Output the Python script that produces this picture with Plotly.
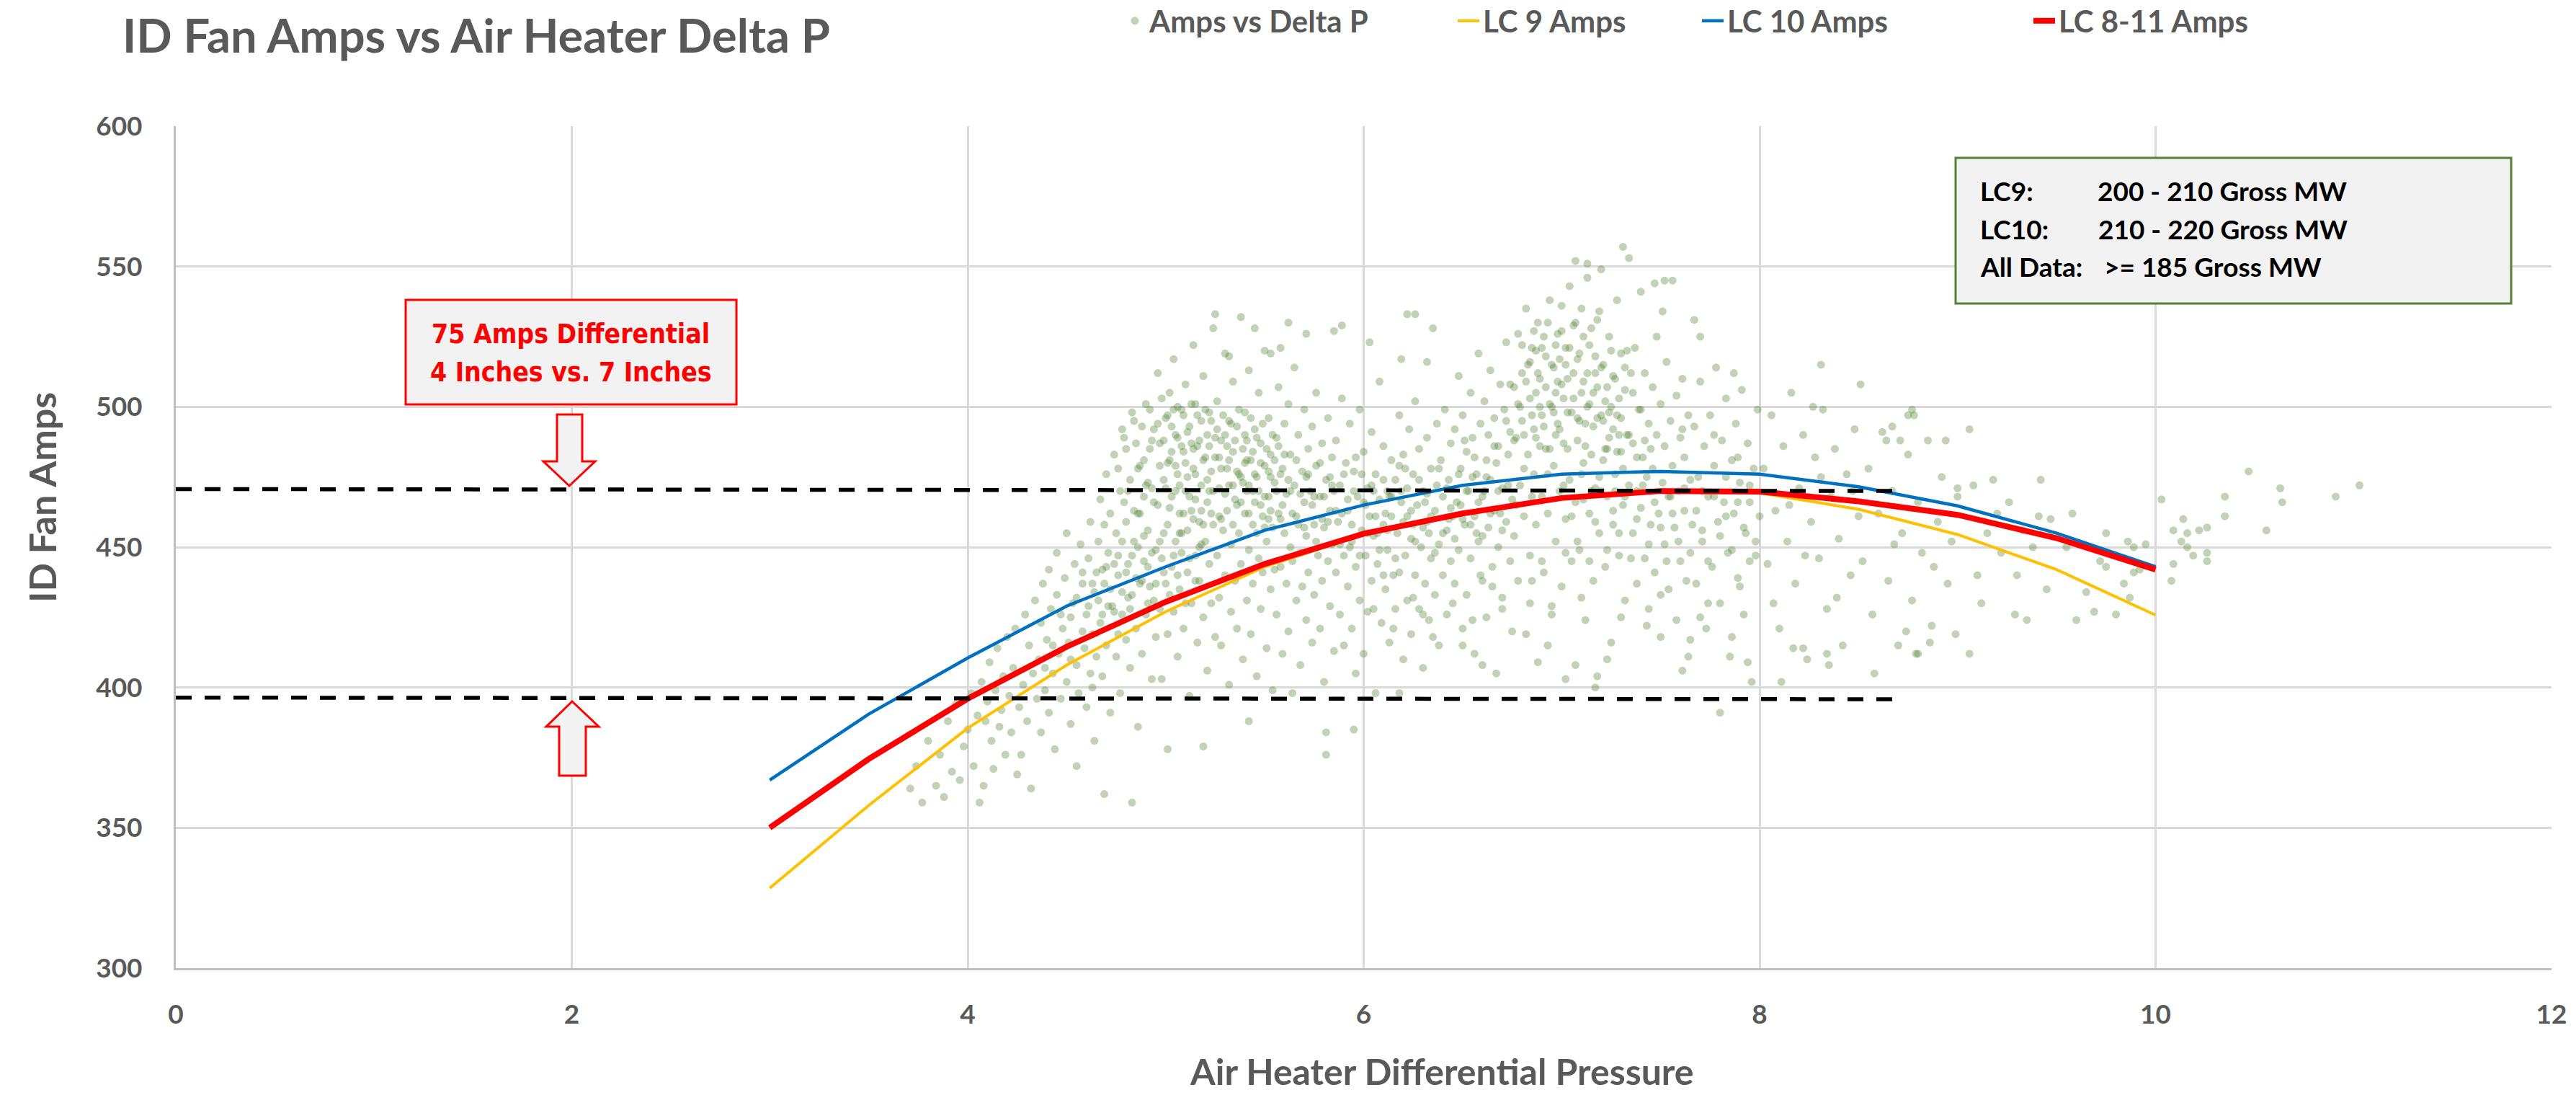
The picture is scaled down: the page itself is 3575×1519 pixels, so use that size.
import plotly.graph_objects as go

# ---------------- chart values ----------------
TITLE = "ID Fan Amps vs Air Heater Delta P"
X_TITLE = "Air Heater Differential Pressure"
Y_TITLE = "ID Fan Amps"

X_TICKS = [0, 2, 4, 6, 8, 10, 12]
Y_TICKS = [300, 350, 400, 450, 500, 550, 600]

LC_DP = [3, 3.5, 4, 4.5, 5, 5.5, 6, 6.5, 7, 7.5, 8, 8.5, 9, 9.5, 10]
LC9_AMPS = [328.5, 358, 385.5, 408, 427, 443, 454.5, 462.5, 467.5, 470.5, 469.3, 463.5, 454.5, 442, 425.8]
LC10_AMPS = [367, 390.5, 410.5, 429, 443, 456, 465, 472, 476, 477, 476, 471.5, 464.7, 455, 443]
LC8_11_AMPS = [350, 374.5, 396, 414.5, 430.5, 444, 454.8, 462, 467.5, 470, 469.8, 466.3, 461.5, 453.2, 442]

# dashed reference levels (amps at the two ends) and their delta-P extent
REF_DP = [0, 8.73]
REF_HIGH_AMPS = [470.7, 470.0]
REF_LOW_AMPS = [396.4, 395.8]

BOX1_LINES = ["75 Amps Differential", "4 Inches vs. 7 Inches"]
BOX2_LABELS = ["LC9:", "LC10:", "All Data:"]
BOX2_VALUES = ["200 - 210 Gross MW", "210 - 220 Gross MW", ">= 185 Gross MW"]

# scatter cloud "Amps vs Delta P" (delta P, amps)
PTS_LEFT = [
    (3.71, 364), (3.74, 372), (3.77, 359), (3.80, 381), (3.84, 365), (3.86, 376), (3.88, 361), (3.90, 388),
    (3.92, 370), (3.94, 394), (3.96, 367), (3.98, 379), (4.00, 385), (4.02, 398), (4.03, 372), (4.05, 390),
    (4.06, 359), (4.07, 402), (4.08, 365), (4.09, 388), (4.10, 395), (4.11, 409), (4.12, 381), (4.13, 371),
    (4.14, 399), (4.15, 414), (4.16, 386), (4.17, 392), (4.18, 404), (4.19, 376), (4.20, 418), (4.21, 397),
    (4.22, 384), (4.23, 407), (4.24, 421), (4.25, 369), (4.26, 393), (4.27, 376), (4.28, 401), (4.29, 426),
    (4.30, 388), (4.31, 415), (4.32, 364), (4.33, 405), (4.34, 431), (4.35, 396),
    (4.36, 410), (4.37, 423), (4.37, 384), (4.38, 437), (4.39, 399), (4.40, 417), (4.41, 442), (4.41, 391),
    (4.42, 428), (4.43, 405), (4.44, 378), (4.45, 433), (4.45, 448), (4.46, 412), (4.47, 396), (4.48, 421),
    (4.49, 439), (4.50, 402), (4.50, 455), (4.51, 416), (4.52, 387), (4.53, 430), (4.54, 444), (4.55, 408),
    (4.55, 372), (4.56, 398), (4.57, 451), (4.58, 437), (4.59, 414), (4.60, 426), (4.60, 393), (4.61, 446),
    (4.62, 405), (4.62, 459), (4.63, 419), (4.64, 434), (4.64, 381), (4.65, 411), (4.65, 441), (4.63, 400),
    (4.58, 420), (4.52, 410), (4.47, 426), (4.43, 415), (4.39, 407),
]
PTS_47_50 = [
    (4.66, 452), (4.67, 423), (4.67, 467), (4.68, 404), (4.69, 437), (4.70, 476), (4.70, 415), (4.71, 448),
    (4.72, 391), (4.72, 462), (4.73, 429), (4.74, 483), (4.75, 411), (4.75, 455), (4.76, 440), (4.77, 470),
    (4.77, 398), (4.78, 426), (4.79, 489), (4.80, 417), (4.80, 459), (4.81, 444), (4.82, 474), (4.82, 407),
    (4.83, 433), (4.84, 495), (4.84, 463), (4.85, 421), (4.86, 450), (4.86, 386), (4.87, 479), (4.88, 438),
    (4.88, 412), (4.89, 468), (4.90, 501), (4.90, 426), (4.91, 456), (4.91, 443), (4.92, 485), (4.93, 403),
    (4.93, 471), (4.94, 431), (4.94, 492), (4.95, 449), (4.95, 418), (4.69, 458), (4.74, 444), (4.78, 452),
    (4.83, 447), (4.87, 462), (4.91, 473), (4.71, 429), (4.76, 419), (4.81, 432), (4.85, 439), (4.89, 454),
    (4.92, 436), (4.68, 442), (4.79, 466), (4.86, 478), (4.69, 362), (4.83, 359),
]
PTS_50_53 = [
    (4.96, 465), (4.96, 512), (4.97, 428), (4.97, 487), (4.98, 446), (4.98, 403), (4.99, 474), (5.00, 496),
    (5.00, 437), (5.01, 458), (5.01, 419), (5.02, 505), (5.02, 481), (5.03, 443), (5.03, 468), (5.04, 427),
    (5.04, 517), (5.05, 452), (5.05, 490), (5.06, 411), (5.06, 476), (5.07, 462), (5.07, 435), (5.08, 499),
    (5.08, 448), (5.09, 421), (5.09, 484), (5.10, 470), (5.10, 508), (5.11, 441), (5.11, 456), (5.12, 397),
    (5.12, 493), (5.13, 463), (5.13, 430), (5.14, 478), (5.14, 522), (5.15, 447), (5.15, 501), (5.16, 416),
    (5.16, 486), (5.17, 459), (5.17, 438), (5.18, 472), (5.18, 495), (5.19, 425), (5.19, 511), (5.20, 452),
    (5.20, 482), (5.21, 406), (5.21, 466), (5.22, 444), (5.22, 498), (5.23, 430), (5.23, 477), (5.24, 458),
    (5.24, 528), (5.25, 489), (5.25, 418), (5.01, 480), (5.05, 470), (5.09, 462), (5.13, 487), (5.17, 450),
    (5.21, 490), (5.03, 493), (5.07, 455), (5.11, 475), (5.15, 467), (5.19, 458), (5.23, 462), (4.99, 455),
    (5.06, 500), (5.14, 460), (5.22, 470), (5.01, 378), (5.19, 379), (5.25, 533),
]
PTS_53_56 = [
    (5.26, 447), (5.26, 502), (5.27, 432), (5.27, 471), (5.28, 415), (5.28, 488), (5.29, 456), (5.30, 519),
    (5.30, 440), (5.31, 478), (5.31, 463), (5.32, 401), (5.32, 495), (5.33, 427), (5.33, 451), (5.34, 484),
    (5.34, 509), (5.35, 438), (5.35, 467), (5.36, 421), (5.36, 493), (5.37, 455), (5.37, 476), (5.38, 444),
    (5.38, 532), (5.39, 410), (5.39, 485), (5.40, 462), (5.40, 498), (5.41, 431), (5.41, 470), (5.42, 449),
    (5.42, 513), (5.43, 419), (5.43, 481), (5.44, 458), (5.44, 437), (5.45, 492), (5.45, 466), (5.46, 404),
    (5.46, 475), (5.47, 446), (5.47, 505), (5.48, 428), (5.48, 487), (5.49, 461), (5.49, 441), (5.50, 479),
    (5.50, 520), (5.51, 452), (5.51, 414), (5.52, 496), (5.52, 468), (5.53, 435), (5.53, 483), (5.54, 457),
    (5.54, 399), (5.55, 473), (5.55, 442), (5.28, 460), (5.32, 472), (5.36, 465), (5.40, 480), (5.44, 470),
    (5.48, 465), (5.52, 460), (5.30, 490), (5.34, 458), (5.38, 475), (5.42, 462), (5.46, 455), (5.50, 468),
    (5.27, 482), (5.41, 488), (5.53, 475), (5.42, 388), (5.32, 518), (5.45, 528), (5.53, 519),
]
PTS_56_59 = [
    (5.56, 489), (5.56, 426), (5.57, 462), (5.57, 507), (5.58, 443), (5.58, 476), (5.59, 412), (5.60, 455),
    (5.60, 494), (5.61, 437), (5.61, 469), (5.62, 501), (5.62, 420), (5.63, 450), (5.63, 483), (5.64, 445),
    (5.64, 398), (5.65, 472), (5.65, 514), (5.66, 431), (5.66, 461), (5.67, 490), (5.68, 448), (5.68, 408),
    (5.69, 477), (5.69, 436), (5.70, 466), (5.70, 499), (5.71, 424), (5.71, 454), (5.72, 485), (5.72, 441),
    (5.73, 470), (5.74, 416), (5.74, 493), (5.75, 458), (5.75, 433), (5.76, 479), (5.76, 505), (5.77, 447),
    (5.78, 421), (5.78, 468), (5.79, 487), (5.79, 438), (5.80, 457), (5.80, 402), (5.81, 474), (5.82, 445),
    (5.82, 496), (5.83, 429), (5.83, 463), (5.84, 482), (5.84, 451), (5.85, 413), (5.85, 470), (5.59, 465),
    (5.63, 470), (5.67, 458), (5.71, 475), (5.75, 468), (5.79, 460), (5.83, 475), (5.58, 521), (5.62, 530),
    (5.71, 526), (5.85, 527), (5.81, 376), (5.81, 384),
]
PTS_59_62 = [
    (5.86, 441), (5.86, 488), (5.87, 459), (5.88, 426), (5.88, 472), (5.89, 503), (5.90, 447), (5.90, 415),
    (5.91, 480), (5.92, 436), (5.92, 463), (5.93, 494), (5.94, 421), (5.94, 452), (5.95, 477), (5.96, 405),
    (5.96, 443), (5.97, 468), (5.98, 431), (5.98, 499), (5.99, 456), (6.00, 484), (6.00, 412), (6.01, 447),
    (6.02, 471), (6.02, 427), (6.03, 461), (6.04, 491), (6.04, 438), (6.05, 454), (6.06, 398), (6.06, 476),
    (6.07, 444), (6.08, 467), (6.08, 509), (6.09, 423), (6.10, 458), (6.10, 486), (6.11, 435), (6.12, 470),
    (6.12, 449), (6.13, 416), (6.14, 481), (6.14, 461), (6.15, 440), (5.89, 462), (5.95, 470), (6.01, 465),
    (6.07, 455), (6.13, 468), (5.93, 450), (5.99, 476), (6.05, 470), (6.11, 462), (6.03, 523), (5.89, 529),
    (5.95, 385),
]
PTS_62_65 = [
    (6.16, 474), (6.16, 428), (6.17, 455), (6.18, 497), (6.18, 441), (6.19, 466), (6.20, 410), (6.20, 483),
    (6.21, 447), (6.22, 461), (6.22, 431), (6.23, 492), (6.24, 453), (6.24, 419), (6.25, 476), (6.26, 440),
    (6.26, 502), (6.27, 465), (6.28, 428), (6.28, 485), (6.29, 450), (6.30, 470), (6.30, 407), (6.31, 437),
    (6.32, 489), (6.32, 459), (6.33, 424), (6.34, 478), (6.34, 446), (6.35, 528), (6.36, 463), (6.36, 433),
    (6.37, 494), (6.38, 451), (6.38, 415), (6.39, 481), (6.40, 440), (6.40, 468), (6.41, 499), (6.42, 456),
    (6.42, 426), (6.43, 474), (6.44, 445), (6.44, 487), (6.45, 461), (6.19, 470), (6.25, 458), (6.31, 466),
    (6.37, 472), (6.43, 460), (6.21, 478), (6.33, 455), (6.18, 398), (6.22, 533), (6.19, 517), (6.32, 516),
    (6.26, 533),
]
PTS_65_68 = [
    (6.46, 492), (6.46, 437), (6.47, 466), (6.48, 511), (6.48, 449), (6.49, 478), (6.50, 421), (6.50, 497),
    (6.51, 458), (6.52, 484), (6.52, 433), (6.53, 470), (6.54, 505), (6.54, 446), (6.55, 489), (6.56, 461),
    (6.56, 412), (6.57, 476), (6.58, 519), (6.58, 452), (6.59, 494), (6.60, 438), (6.60, 468), (6.61, 502),
    (6.62, 481), (6.62, 425), (6.63, 457), (6.64, 513), (6.64, 474), (6.65, 443), (6.66, 496), (6.66, 463),
    (6.67, 405), (6.68, 486), (6.68, 450), (6.69, 508), (6.70, 471), (6.70, 432), (6.71, 499), (6.72, 459),
    (6.72, 523), (6.73, 483), (6.74, 445), (6.74, 491), (6.75, 467), (6.49, 465), (6.55, 475), (6.61, 470),
    (6.67, 480), (6.73, 472), (6.51, 488), (6.57, 455), (6.63, 490), (6.69, 462), (6.59, 440), (6.60, 408),
]
PTS_68_71 = [
    (6.76, 507), (6.76, 454), (6.77, 489), (6.78, 526), (6.78, 438), (6.79, 472), (6.80, 512), (6.80, 495),
    (6.81, 461), (6.82, 535), (6.82, 419), (6.83, 483), (6.84, 503), (6.84, 447), (6.85, 521), (6.86, 476),
    (6.86, 492), (6.87, 458), (6.88, 530), (6.88, 409), (6.89, 510), (6.90, 468), (6.90, 497), (6.91, 441),
    (6.92, 518), (6.92, 485), (6.93, 462), (6.94, 538), (6.94, 501), (6.95, 429), (6.96, 479), (6.96, 514),
    (6.97, 452), (6.98, 494), (6.98, 526), (6.99, 470), (7.00, 508), (7.00, 436), (7.01, 487), (7.02, 521),
    (7.02, 460), (7.03, 498), (7.04, 543), (7.04, 474), (7.05, 445), (6.79, 500), (6.83, 515), (6.87, 505),
    (6.91, 525), (6.95, 500), (6.99, 517), (7.03, 510), (6.81, 478), (6.85, 468), (6.89, 486), (6.93, 476),
    (6.97, 490), (7.01, 472), (6.77, 465), (6.87, 520), (6.97, 505), (6.84, 430), (6.93, 415), (7.02, 403),
    (7.00, 536),
]
PTS_71_74 = [
    (7.06, 503), (7.06, 529), (7.07, 466), (7.08, 517), (7.08, 488), (7.09, 449), (7.10, 535), (7.10, 476),
    (7.11, 509), (7.12, 424), (7.12, 494), (7.13, 546), (7.14, 462), (7.14, 522), (7.15, 483), (7.16, 505),
    (7.16, 438), (7.17, 471), (7.18, 531), (7.18, 496), (7.19, 455), (7.20, 514), (7.20, 549), (7.21, 481),
    (7.22, 443), (7.22, 502), (7.23, 468), (7.24, 525), (7.24, 489), (7.25, 416), (7.26, 511), (7.26, 458),
    (7.27, 476), (7.28, 538), (7.28, 497), (7.29, 447), (7.30, 519), (7.30, 484), (7.31, 465), (7.32, 506),
    (7.32, 431), (7.33, 490), (7.34, 553), (7.34, 472), (7.35, 512), (7.09, 495), (7.13, 500), (7.17, 512),
    (7.21, 495), (7.25, 500), (7.29, 490), (7.33, 520), (7.11, 480), (7.15, 470), (7.19, 475), (7.23, 485),
    (7.27, 470), (7.31, 478), (7.07, 408), (7.23, 410), (7.18, 404), (7.17, 400), (7.31, 557), (7.07, 552),
    (7.13, 551),
]
PTS_74_80 = [
    (7.36, 487), (7.36, 455), (7.37, 521), (7.38, 470), (7.38, 437), (7.39, 499), (7.40, 541), (7.40, 464),
    (7.41, 482), (7.42, 512), (7.42, 446), (7.43, 475), (7.44, 428), (7.44, 494), (7.45, 458), (7.46, 507),
    (7.46, 478), (7.47, 441), (7.48, 490), (7.48, 525), (7.49, 462), (7.50, 501), (7.50, 418), (7.51, 473),
    (7.52, 486), (7.52, 451), (7.53, 516), (7.54, 468), (7.54, 435), (7.55, 495), (7.56, 479), (7.56, 545),
    (7.57, 457), (7.58, 504), (7.58, 424), (7.59, 470), (7.60, 489), (7.60, 445), (7.61, 510), (7.62, 463),
    (7.62, 482), (7.63, 438), (7.64, 497), (7.64, 411), (7.65, 474), (7.45, 485), (7.55, 468), (7.61, 492),
    (7.47, 544), (7.52, 545), (7.51, 534), (7.43, 422), (7.65, 417), (7.61, 406),
    (7.66, 458), (7.67, 493), (7.68, 437), (7.69, 475), (7.70, 509), (7.71, 452), (7.72, 486), (7.73, 421),
    (7.74, 468), (7.75, 497), (7.76, 443), (7.77, 479), (7.78, 514), (7.79, 459), (7.80, 430), (7.81, 488),
    (7.82, 466), (7.83, 503), (7.84, 448), (7.85, 411), (7.86, 481), (7.87, 462), (7.88, 494), (7.89, 439),
    (7.90, 473), (7.91, 506), (7.92, 426), (7.93, 455), (7.94, 487), (7.95, 466), (7.96, 402), (7.97, 478),
    (7.98, 447), (7.99, 499), (8.00, 461), (7.71, 470), (7.77, 490), (7.83, 475), (7.89, 482), (7.95, 445),
    (7.74, 430), (7.86, 418), (7.80, 391), (7.94, 409), (7.67, 531), (7.70, 525), (7.87, 512),
]
PTS_RIGHT = [
    (8.02, 478), (8.04, 444), (8.06, 497), (8.08, 463), (8.10, 421), (8.12, 486), (8.14, 452), (8.16, 505),
    (8.18, 437), (8.20, 471), (8.22, 490), (8.24, 410), (8.26, 459), (8.28, 482), (8.30, 446), (8.32, 499),
    (8.34, 428), (8.36, 468), (8.38, 485), (8.40, 453), (8.42, 415), (8.44, 476), (8.46, 440), (8.48, 492),
    (8.50, 461), (8.07, 430), (8.15, 465), (8.23, 447), (8.31, 475), (8.39, 432), (8.47, 470), (8.11, 402),
    (8.35, 408), (8.27, 500), (8.17, 414), (8.22, 414), (8.34, 412), (8.31, 515), (8.51, 508),
    (8.52, 445), (8.55, 478), (8.57, 426), (8.60, 462), (8.62, 491), (8.65, 438), (8.67, 470), (8.70, 415),
    (8.72, 455), (8.75, 483), (8.77, 431), (8.80, 466), (8.82, 448), (8.85, 488), (8.87, 422), (8.90, 459),
    (8.92, 475), (8.95, 437), (8.97, 452), (9.00, 468), (8.58, 405), (8.68, 451), (8.78, 497), (8.88, 443),
    (8.74, 420), (8.79, 412), (8.86, 416), (8.99, 419), (8.75, 497), (8.67, 493), (8.64, 488), (8.94, 488),
    (8.77, 499), (8.71, 488), (8.80, 412),
    (9.00, 471), (9.06, 412), (9.06, 492), (9.08, 472), (9.18, 474), (9.26, 466), (9.29, 426), (9.35, 424),
    (9.41, 461), (9.42, 474), (9.47, 460), (9.10, 440), (9.15, 455), (9.22, 448), (9.30, 440), (9.38, 450),
    (9.45, 435), (9.12, 430), (9.20, 462), (9.33, 456),
    (9.60, 424), (9.65, 434), (9.69, 427), (9.72, 445), (9.75, 443), (9.75, 455), (9.80, 426), (9.84, 437),
    (9.86, 452), (9.87, 432), (9.89, 441), (9.89, 450), (9.92, 442), (9.95, 451), (9.55, 450), (9.58, 462),
    (10.03, 467), (10.08, 438), (10.09, 444), (10.09, 456), (10.13, 452), (10.14, 460), (10.16, 450),
    (10.16, 455), (10.19, 447), (10.22, 456), (10.26, 445), (10.26, 448), (10.26, 457), (10.35, 461),
    (10.35, 468), (10.47, 477), (10.56, 456), (10.63, 471), (10.64, 466), (10.91, 468), (11.03, 472),
]
# denser cores of the cloud
CORE_FIRST_LOBE = [
    (4.76, 478), (4.78, 492), (4.80, 485), (4.81, 470), (4.83, 498), (4.85, 487), (4.86, 462), (4.88, 493),
    (4.89, 481), (4.90, 472), (4.92, 499), (4.93, 488), (4.94, 466), (4.96, 494), (4.97, 479), (4.98, 503),
    (4.99, 488), (5.00, 471), (5.01, 497), (5.02, 464), (5.03, 484), (5.04, 499), (5.05, 479), (5.06, 489),
    (5.07, 472), (5.08, 486), (5.09, 497), (5.10, 480), (5.11, 491), (5.12, 468), (5.13, 501), (5.14, 485),
    (5.15, 476), (5.16, 497), (5.17, 488), (5.18, 463), (5.19, 481), (5.20, 499), (5.21, 474), (5.22, 486),
    (5.23, 495), (5.24, 470), (5.25, 482), (5.26, 492), (5.27, 461), (5.28, 478), (5.29, 497), (5.30, 469),
    (5.31, 486), (5.32, 481), (5.33, 494), (5.34, 472), (5.35, 488), (5.36, 477), (5.37, 499), (5.38, 466),
    (5.39, 473), (5.40, 490), (5.41, 481), (5.42, 472), (5.43, 496), (5.44, 484), (5.45, 476), (5.46, 489),
    (5.47, 470), (5.48, 480), (5.49, 494), (5.50, 457), (5.51, 485), (5.52, 477), (5.53, 463), (5.54, 490),
    (5.55, 481), (5.56, 470), (5.57, 486), (5.58, 460), (5.59, 478), (5.60, 483),
    (4.52, 425), (4.55, 432), (4.58, 441), (4.61, 429), (4.63, 437), (4.66, 431), (4.68, 426), (4.70, 443),
    (4.72, 435), (4.74, 427), (4.76, 447), (4.78, 434), (4.80, 441), (4.82, 428), (4.84, 452), (4.87, 437),
    (4.89, 445), (4.91, 430), (4.93, 448), (4.95, 437), (4.97, 452), (4.99, 441), (5.02, 433), (5.04, 447),
    (5.06, 440), (5.08, 455), (5.10, 430), (5.12, 446), (5.15, 438), (5.18, 451),
]
CORE_MIDDLE = [
    (5.62, 474), (5.64, 462), (5.66, 481), (5.68, 469), (5.70, 457), (5.72, 476), (5.74, 465), (5.76, 452),
    (5.78, 480), (5.80, 468), (5.82, 459), (5.84, 472), (5.86, 463), (5.88, 451), (5.90, 476), (5.92, 467),
    (5.94, 458), (5.96, 482), (5.98, 447), (6.00, 466), (6.02, 455), (6.04, 472), (6.06, 461), (6.08, 449),
    (6.10, 474), (6.12, 456), (6.14, 468), (6.16, 446), (6.18, 479), (6.20, 459), (6.22, 471), (6.24, 463),
    (6.26, 452), (6.28, 474), (6.30, 457), (6.32, 469), (6.34, 461), (6.36, 448), (6.38, 478), (6.40, 455),
    (6.42, 471), (6.44, 464), (6.46, 453), (6.48, 476), (6.50, 460), (6.52, 470), (6.54, 458), (6.56, 482),
    (6.58, 466), (6.60, 454), (6.62, 475), (6.64, 462), (6.66, 486), (6.68, 470), (6.70, 456),
    (6.05, 428), (6.15, 421), (6.25, 432), (6.35, 418), (6.45, 430), (6.55, 424), (6.65, 436), (6.75, 420),
    (6.85, 438), (6.95, 426), (6.10, 440), (6.30, 426), (6.50, 415), (6.70, 428), (6.90, 445), (7.10, 432),
    (7.30, 425), (7.50, 433), (7.70, 425), (7.90, 436),
]
CORE_SECOND_LOBE = [
    (6.72, 495), (6.74, 508), (6.76, 488), (6.78, 501), (6.80, 522), (6.81, 490), (6.82, 509), (6.84, 516),
    (6.85, 497), (6.86, 527), (6.87, 489), (6.88, 512), (6.89, 500), (6.90, 521), (6.91, 493), (6.92, 507),
    (6.93, 530), (6.94, 485), (6.95, 515), (6.96, 498), (6.97, 522), (6.98, 509), (6.99, 492), (7.00, 527),
    (7.01, 503), (7.02, 515), (7.03, 485), (7.04, 521), (7.05, 498), (7.06, 512), (7.07, 530), (7.08, 496),
    (7.09, 519), (7.10, 505), (7.11, 525), (7.12, 486), (7.13, 512), (7.14, 501), (7.15, 528), (7.16, 493),
    (7.17, 518), (7.18, 507), (7.19, 534), (7.20, 497), (7.21, 515), (7.22, 485), (7.23, 507), (7.24, 498),
    (7.25, 520), (7.26, 492), (7.27, 510), (7.28, 484), (7.29, 503), (7.30, 496), (7.32, 514), (7.34, 490),
    (7.36, 505), (7.38, 482), (7.40, 499), (7.42, 488),
    (7.02, 448), (7.05, 461), (7.08, 452), (7.11, 467), (7.14, 445), (7.17, 459), (7.20, 470), (7.23, 449),
    (7.26, 463), (7.29, 455), (7.32, 468), (7.35, 446), (7.38, 460), (7.41, 472), (7.44, 451), (7.47, 466),
    (7.50, 457), (7.53, 445), (7.56, 462), (7.59, 452), (7.62, 471), (7.65, 448), (7.68, 463), (7.71, 456),
    (7.74, 445), (7.77, 468), (7.80, 454), (7.83, 461), (7.86, 449), (7.89, 466), (7.92, 457), (7.95, 472),
    (7.98, 452),
]

SCATTER_PTS = (PTS_LEFT + PTS_47_50 + PTS_50_53 + PTS_53_56 + PTS_56_59 + PTS_59_62
               + PTS_62_65 + PTS_65_68 + PTS_68_71 + PTS_71_74 + PTS_74_80 + PTS_RIGHT
               + CORE_FIRST_LOBE + CORE_MIDDLE + CORE_SECOND_LOBE)
SCATTER_DP = [p[0] for p in SCATTER_PTS]
SCATTER_AMPS = [p[1] for p in SCATTER_PTS]

# ---------------- layout / styling ----------------
W, H = 3575, 1519
ML, MR, MT, MB = 244, 34, 175, 176
PW, PH = W - ML - MR, H - MT - MB
FONT = "Lato, 'Open Sans', sans-serif"
GREY = "#595959"


def px_x(px):
    return (px - ML) / PW


def px_y(py):
    return (H - MB - py) / PH


fig = go.Figure()
fig.add_trace(go.Scatter(
    x=SCATTER_DP, y=SCATTER_AMPS, mode="markers", name="Amps vs Delta P",
    marker=dict(size=11, color="rgba(84,130,53,0.36)", line=dict(width=0)),
    legend="legend"))
fig.add_trace(go.Scatter(x=LC_DP, y=LC9_AMPS, mode="lines", name="LC 9 Amps",
                         line=dict(color="#FFC000", width=4), legend="legend2"))
fig.add_trace(go.Scatter(x=LC_DP, y=LC10_AMPS, mode="lines", name="LC 10 Amps",
                         line=dict(color="#0070C0", width=4.5), legend="legend3"))
fig.add_trace(go.Scatter(x=LC_DP, y=LC8_11_AMPS, mode="lines", name="LC 8-11 Amps",
                         line=dict(color="#FF0000", width=8), legend="legend4"))

shapes = []
# dashed reference lines
for amps in (REF_HIGH_AMPS, REF_LOW_AMPS):
    shapes.append(dict(type="line", xref="x", yref="y", x0=REF_DP[0], x1=REF_DP[1],
                       y0=amps[0], y1=amps[1], layer="above",
                       line=dict(color="black", width=5.5, dash="22px,18px")))


def path(points):
    return "M " + " L ".join(f"{px_x(a):.5f},{px_y(b):.5f}" for a, b in points) + " Z"


# callout box 1 (red)
shapes.append(dict(type="rect", xref="paper", yref="paper",
                   x0=px_x(563), x1=px_x(1022), y0=px_y(561), y1=px_y(416),
                   fillcolor="#F2F2F2", line=dict(color="#FF0000", width=3), layer="above"))
# hollow arrows
shapes.append(dict(type="path", xref="paper", yref="paper",
                   path=path([(773, 575), (808, 575), (808, 640), (826, 640), (790, 674), (754, 640), (773, 640)]),
                   fillcolor="#F2F2F2", line=dict(color="#FF0000", width=3), layer="above"))
shapes.append(dict(type="path", xref="paper", yref="paper",
                   path=path([(794, 973), (831, 1008), (813, 1008), (813, 1076), (776, 1076), (776, 1008), (758, 1008)]),
                   fillcolor="#F2F2F2", line=dict(color="#FF0000", width=3), layer="above"))
# legend box 2 (green)
shapes.append(dict(type="rect", xref="paper", yref="paper",
                   x0=px_x(2714), x1=px_x(3485), y0=px_y(421), y1=px_y(219),
                   fillcolor="#F2F2F2", line=dict(color="#548235", width=3), layer="above"))

annotations = []
box1_font = dict(family="'DejaVu Sans Condensed', 'DejaVu Sans'", size=37, color="#FF0000", weight="bold")
annotations.append(dict(xref="paper", yref="paper", x=px_x(792), y=px_y(464), text=BOX1_LINES[0],
                        showarrow=False, xanchor="center", yanchor="middle", font=box1_font))
annotations.append(dict(xref="paper", yref="paper", x=px_x(792), y=px_y(516), text=BOX1_LINES[1],
                        showarrow=False, xanchor="center", yanchor="middle", font=box1_font))
for i, (lab, val) in enumerate(zip(BOX2_LABELS, BOX2_VALUES)):
    yy = [264, 317, 369][i]
    xv = [2909, 2910, 2918][i]
    annotations.append(dict(xref="paper", yref="paper", x=px_x(2746), y=px_y(yy), text=lab,
                            showarrow=False, xanchor="left", yanchor="middle",
                            font=dict(family=FONT, size=37, color="black", weight="bold")))
    annotations.append(dict(xref="paper", yref="paper", x=px_x(xv), y=px_y(yy), text=val,
                            showarrow=False, xanchor="left", yanchor="middle",
                            font=dict(family=FONT, size=37, color="black", weight="bold")))
# axis titles
annotations.append(dict(xref="paper", yref="paper", x=px_x(2000), y=px_y(1486), text=X_TITLE,
                        showarrow=False, xanchor="center", yanchor="middle",
                        font=dict(family=FONT, size=50, color=GREY, weight="bold")))
annotations.append(dict(xref="paper", yref="paper", x=px_x(58), y=px_y(690), text=Y_TITLE,
                        showarrow=False, xanchor="center", yanchor="middle", textangle=-90,
                        font=dict(family=FONT, size=52, color=GREY, weight="bold")))

legend_font = dict(family=FONT, size=42, color=GREY, weight="bold")


def leg(text_start_px):
    return dict(orientation="h", xref="container", yref="container",
                x=(text_start_px - 44) / W, y=1 - 29 / H, xanchor="left", yanchor="middle",
                font=legend_font, bgcolor="rgba(0,0,0,0)", borderwidth=0, itemwidth=30)


axis_common = dict(showgrid=True, gridcolor="#D9D9D9", gridwidth=3, zeroline=False,
                   showline=True, linecolor="#BFBFBF", linewidth=3, ticks="",
                   tickfont=dict(family=FONT, size=37, color=GREY, weight="bold"))

fig.update_layout(
    width=W, height=H,
    margin=dict(l=ML, r=MR, t=MT, b=MB, pad=0),
    paper_bgcolor="white", plot_bgcolor="white",
    title=dict(text=TITLE, x=170 / W, xref="container", xanchor="left",
               y=1 - 50 / H, yref="container", yanchor="middle",
               font=dict(family=FONT, size=65, color=GREY, weight="bold")),
    xaxis=dict(range=[0, 12], tickvals=X_TICKS, ticklabelstandoff=30, **axis_common),
    yaxis=dict(range=[300, 600], tickvals=Y_TICKS, ticklabelstandoff=36, **axis_common),
    legend=leg(1599), legend2=leg(2062), legend3=leg(2401), legend4=leg(2861),
    shapes=shapes, annotations=annotations,
    showlegend=True,
)

fig.write_html("out.html", config={"displayModeBar": False},
               post_script="document.body.style.margin='0';document.body.style.overflow='hidden';")
